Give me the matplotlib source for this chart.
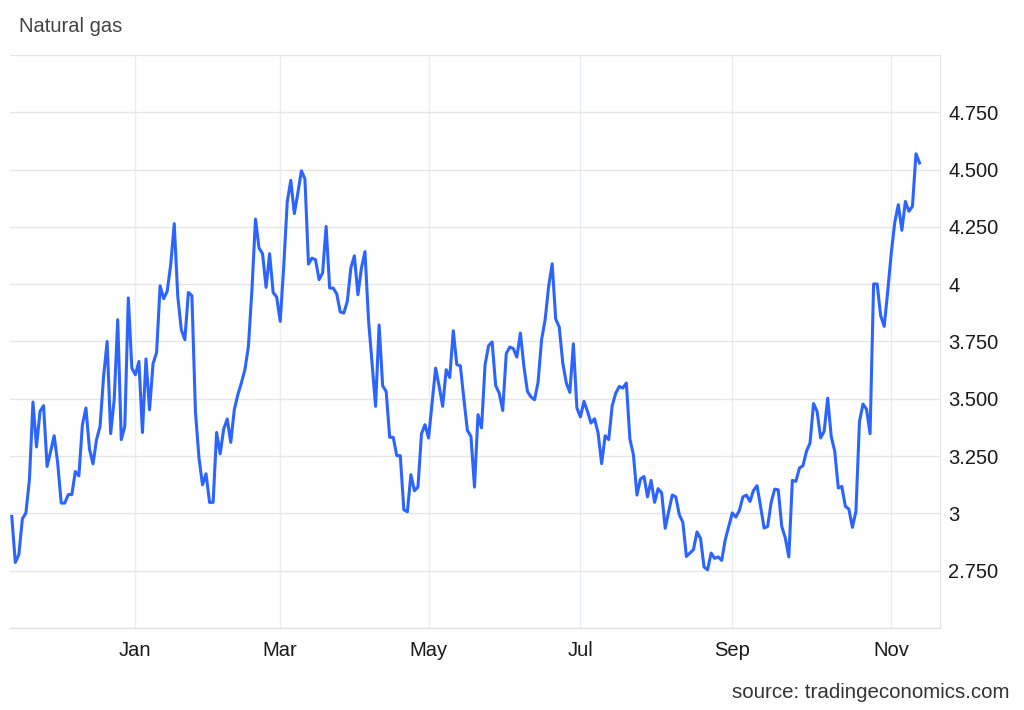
import numpy as np
import pandas as pd
import matplotlib
matplotlib.use("Agg")
import matplotlib.pyplot as plt

plt.rcParams['font.family'] = ['Liberation Sans', 'DejaVu Sans']

# daily closes (one value per trading day)
values = [
    2.987, 2.786, 2.820, 2.976, 3.002, 3.147, 3.486, 3.290, 3.445, 3.470,
    3.205, 3.270, 3.339, 3.220, 3.045, 3.045, 3.082, 3.082, 3.183, 3.164,
    3.387, 3.460, 3.281, 3.216, 3.322, 3.380, 3.598, 3.750, 3.348, 3.496,
    3.845, 3.322, 3.380, 3.940, 3.634, 3.605, 3.663, 3.353, 3.674, 3.452,
    3.653, 3.702, 3.993, 3.937, 3.969, 4.085, 4.264, 3.947, 3.801, 3.758,
    3.964, 3.950, 3.445, 3.242, 3.125, 3.173, 3.048, 3.048, 3.353, 3.260,
    3.368, 3.412, 3.310, 3.452, 3.518, 3.569, 3.627, 3.729, 3.976, 4.284,
    4.158, 4.133, 3.986, 4.133, 3.964, 3.944, 3.838, 4.078, 4.361, 4.453,
    4.308, 4.398, 4.495, 4.459, 4.088, 4.114, 4.107, 4.020, 4.049, 4.252,
    3.983, 3.983, 3.958, 3.879, 3.874, 3.925, 4.071, 4.124, 3.954, 4.071,
    4.142, 3.845, 3.656, 3.467, 3.822, 3.557, 3.532, 3.332, 3.332, 3.252,
    3.252, 3.016, 3.007, 3.169, 3.099, 3.115, 3.348, 3.387, 3.329, 3.482,
    3.634, 3.554, 3.467, 3.627, 3.593, 3.797, 3.649, 3.644, 3.499, 3.362,
    3.336, 3.115, 3.431, 3.373, 3.649, 3.732, 3.748, 3.558, 3.525, 3.449,
    3.697, 3.726, 3.719, 3.682, 3.787, 3.641, 3.532, 3.508, 3.496, 3.572,
    3.758, 3.845, 3.990, 4.089, 3.848, 3.813, 3.656, 3.569, 3.528, 3.740,
    3.460, 3.421, 3.489, 3.445, 3.394, 3.413, 3.351, 3.217, 3.339, 3.322,
    3.470, 3.525, 3.554, 3.547, 3.569, 3.325, 3.256, 3.080, 3.150, 3.161,
    3.072, 3.144, 3.048, 3.108, 3.089, 2.935, 3.009, 3.080, 3.072, 2.994,
    2.961, 2.812, 2.827, 2.842, 2.919, 2.891, 2.766, 2.754, 2.827, 2.804,
    2.810, 2.795, 2.885, 2.943, 3.002, 2.984, 3.013, 3.072, 3.080, 3.052,
    3.100, 3.121, 3.031, 2.936, 2.943, 3.048, 3.106, 3.103, 2.943, 2.893,
    2.810, 3.144, 3.140, 3.198, 3.208, 3.271, 3.307, 3.479, 3.445, 3.329,
    3.358, 3.503, 3.336, 3.271, 3.111, 3.118, 3.031, 3.019, 2.939, 3.009,
    3.401, 3.477, 3.455, 3.348, 4.001, 4.001, 3.863, 3.816, 3.969, 4.136,
    4.270, 4.347, 4.235, 4.361, 4.318, 4.340, 4.569, 4.529,
]
start_date = '2024-11-11'
holidays = ['2024-11-28', '2024-12-25', '2025-01-01', '2025-01-09',
            '2025-04-18', '2025-07-04']
month_names = {1: 'Jan', 3: 'Mar', 5: 'May', 7: 'Jul', 9: 'Sep', 11: 'Nov'}
y_ticks = [2.5, 2.75, 3.0, 3.25, 3.5, 3.75, 4.0, 4.25, 4.5, 4.75, 5.0]
y_labels = ['', '2.750', '3', '3.250', '3.500', '3.750', '4', '4.250',
            '4.500', '4.750', '']

dates = pd.bdate_range(start=start_date, periods=len(values), freq='C',
                       holidays=holidays)
x = np.arange(len(values))

# first trading day of every other month
tick_pos, tick_lab = [], []
for i in range(1, len(dates)):
    if dates[i].month != dates[i-1].month and dates[i].month in month_names:
        tick_pos.append(i)
        tick_lab.append(month_names[dates[i].month])

fig = plt.figure(figsize=(10.24, 7.10), dpi=100)
ax = fig.add_axes([10/1024, 82/710, 930/1024, 573/710])

ax.plot(x, values, color='#2b64ff', lw=2.2, solid_joinstyle='round')

ax.set_xlim(-0.5, 262.8)
ax.set_ylim(2.5, 5.0)
ax.set_yticks(y_ticks)
ax.set_yticklabels(y_labels)
ax.set_xticks(tick_pos)
ax.set_xticklabels(tick_lab)

ax.yaxis.tick_right()
ax.tick_params(axis='y', length=0, pad=6, labelsize=14.5, labelcolor='#1a1a1a')
ax.tick_params(axis='x', length=0, pad=9, labelsize=14.5, labelcolor='#1a1a1a')

ax.grid(axis='y', color='#e6e6e6', lw=1)
ax.grid(axis='x', color='#e9eef4', lw=1)
ax.set_axisbelow(True)

for s in ['top', 'left']:
    ax.spines[s].set_visible(False)
ax.spines['right'].set_color('#e6e6e6')
ax.spines['bottom'].set_color('#e0e0e0')

fig.text(19/1024, 1 - 27/710, 'Natural gas', ha='left', va='center',
         fontsize=14.5, color='#444444')
fig.text(1010/1024, 1 - 692/710, 'source: tradingeconomics.com', ha='right',
         va='center', fontsize=14.8, color='#333333')

fig.savefig('out.png', dpi=100)
